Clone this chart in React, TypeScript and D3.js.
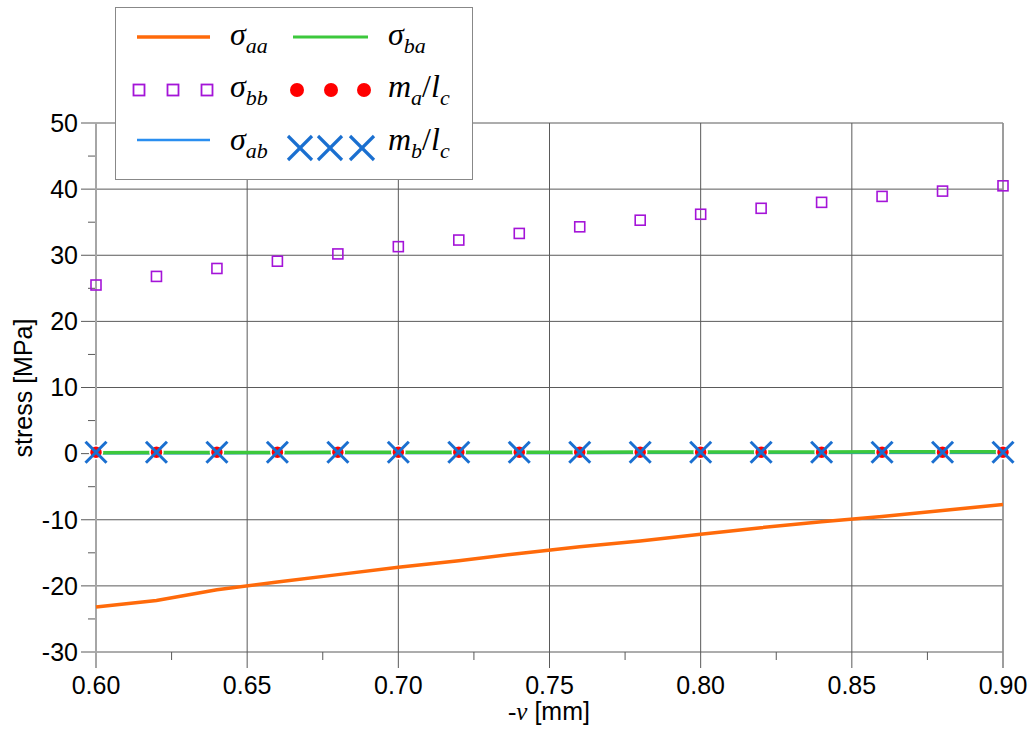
import React from "react";
import * as d3 from "d3";

const xs = [0.60, 0.62, 0.64, 0.66, 0.68, 0.70, 0.72, 0.74, 0.76, 0.78, 0.80, 0.82, 0.84, 0.86, 0.88, 0.90];
const sigmaAA = [-23.2, -22.2, -20.6, -19.4, -18.3, -17.2, -16.2, -15.1, -14.1, -13.2, -12.2, -11.2, -10.3, -9.5, -8.6, -7.7];
const sigmaBA = [0.15, 0.16, 0.17, 0.18, 0.19, 0.2, 0.2, 0.21, 0.22, 0.23, 0.24, 0.25, 0.26, 0.27, 0.28, 0.3];
const sigmaAB = [0.05, 0.06, 0.07, 0.08, 0.08, 0.09, 0.1, 0.1, 0.11, 0.12, 0.12, 0.13, 0.14, 0.14, 0.15, 0.16];
const sigmaBB = [25.5, 26.8, 28.0, 29.1, 30.2, 31.3, 32.3, 33.3, 34.3, 35.3, 36.2, 37.1, 38.0, 38.9, 39.7, 40.5];
const maLc = [0.2, 0.2, 0.2, 0.2, 0.2, 0.2, 0.2, 0.2, 0.2, 0.2, 0.2, 0.2, 0.2, 0.2, 0.2, 0.2];
const mbLc = [0.2, 0.2, 0.2, 0.2, 0.2, 0.2, 0.2, 0.2, 0.2, 0.2, 0.2, 0.2, 0.2, 0.2, 0.2, 0.2];
const xTicks = [0.60, 0.65, 0.70, 0.75, 0.80, 0.85, 0.90];
const xMinor = [0.625, 0.675, 0.725, 0.775, 0.825, 0.875];
const yTicks = [50, 40, 30, 20, 10, 0, -10, -20, -30];
const yMinor = [45, 35, 25, 15, 5, -5, -15, -25];

const ORANGE = "#ff6a0a";
const GREEN = "#3cc83c";
const BLUE_LINE = "#2a8ef0";
const PURPLE = "#a414d8";
const RED = "#ff0000";
const BLUE_X = "#1a6fd0";
const SANS = "'Liberation Sans', Arial, sans-serif";
const SERIF = "'Liberation Serif', 'Times New Roman', serif";

export default function App() {
  const x = d3.scaleLinear().domain([0.6, 0.9]).range([96, 1003]);
  const y = d3.scaleLinear().domain([-30, 50]).range([652, 123]);
  const line = (vals: number[]) =>
    d3.line<number>().x((_, i) => x(xs[i])).y((v) => y(v))(vals) || "";

  const xMark = (cx: number, cy: number, h: number, sw: number, key: string) => (
    <g key={key} stroke={BLUE_X} strokeWidth={sw} strokeLinecap="butt">
      <line x1={cx - h} y1={cy - h} x2={cx + h} y2={cy + h} />
      <line x1={cx - h} y1={cy + h} x2={cx + h} y2={cy - h} />
    </g>
  );

  const legendSigma = (tx: number, by: number, sub: string) => (
    <text x={tx} y={by} fontFamily={SERIF} fontStyle="italic" fontSize={32} fill="#000">
      σ<tspan fontSize={22} dy={8}>{sub}</tspan>
    </text>
  );
  const legendM = (tx: number, by: number, sub: string) => (
    <text x={tx} y={by} fontFamily={SERIF} fontStyle="italic" fontSize={32} fill="#000">
      m<tspan fontSize={22} dy={8}>{sub}</tspan>
      <tspan dy={-8} fontStyle="normal">/</tspan>
      <tspan>l</tspan>
      <tspan fontSize={22} dy={8}>c</tspan>
    </text>
  );

  return (
    <svg width={1033} height={736} style={{ position: "absolute", left: 0, top: 0, background: "#fff" }}>
      {/* grid */}
      {yTicks.map((t) => (
        <line key={"gy" + t} x1={81} x2={1003} y1={y(t)} y2={y(t)} stroke="#5a5a5a" strokeWidth={1} />
      ))}
      {yMinor.map((t) => (
        <line key={"my" + t} x1={88} x2={96} y1={y(t)} y2={y(t)} stroke="#5a5a5a" strokeWidth={1} />
      ))}
      {xTicks.map((t) => (
        <line key={"gx" + t} x1={x(t)} x2={x(t)} y1={123} y2={668} stroke="#5a5a5a" strokeWidth={1} />
      ))}
      {xMinor.map((t) => (
        <line key={"mx" + t} x1={x(t)} x2={x(t)} y1={652} y2={660} stroke="#5a5a5a" strokeWidth={1} />
      ))}
      <line x1={96} x2={96} y1={123} y2={668} stroke="#a6a6a6" strokeWidth={2} />
      <line x1={1003} x2={1003} y1={123} y2={668} stroke="#999" strokeWidth={1.5} />

      {/* tick labels */}
      {yTicks.map((t) => (
        <text key={"ly" + t} x={78} y={y(t)} dy="0.35em" textAnchor="end" fontFamily={SANS} fontSize={25} fill="#000">
          {t}
        </text>
      ))}
      {xTicks.map((t) => (
        <text key={"lx" + t} x={x(t)} y={694} textAnchor="middle" fontFamily={SANS} fontSize={25} fill="#000">
          {t.toFixed(2)}
        </text>
      ))}
      <text x={549} y={720} textAnchor="middle" fontSize={25} fill="#000">
        <tspan fontFamily={SERIF} fontStyle="italic">-v</tspan>
        <tspan fontFamily={SANS}> [mm]</tspan>
      </text>
      <text transform="translate(32,388) rotate(-90)" textAnchor="middle" fontFamily={SANS} fontSize={25} fill="#000">
        stress [MPa]
      </text>

      {/* series */}
      <path d={line(sigmaAB)} fill="none" stroke={BLUE_LINE} strokeWidth={2.5} />
      <path d={line(sigmaBA)} fill="none" stroke={GREEN} strokeWidth={3.5} />
      <path d={line(sigmaAA)} fill="none" stroke={ORANGE} strokeWidth={3.5} />
      {sigmaBB.map((v, i) => (
        <rect key={"sq" + i} x={x(xs[i]) - 5} y={y(v) - 5} width={10} height={10} fill="none" stroke={PURPLE} strokeWidth={1.6} />
      ))}
      {maLc.map((v, i) => (
        <circle key={"rd" + i} cx={x(xs[i])} cy={y(v)} r={6.5} fill={RED} stroke="#fff" strokeWidth={1.5} />
      ))}
      {mbLc.map((v, i) => xMark(x(xs[i]), y(v), 10.5, 3, "xm" + i))}

      {/* legend */}
      <rect x={115.5} y={7.5} width={357} height={172} fill="#fff" stroke="#888" strokeWidth={1} />
      <line x1={137} x2={210} y1={37} y2={37} stroke={ORANGE} strokeWidth={3.5} />
      {legendSigma(230, 45, "aa")}
      <line x1={293} x2={368} y1={37} y2={37} stroke={GREEN} strokeWidth={3} />
      {legendSigma(388, 45, "ba")}
      {[139, 173, 207].map((cx) => (
        <rect key={"lsq" + cx} x={cx - 5.5} y={84.5} width={11} height={11} fill="none" stroke={PURPLE} strokeWidth={1.8} />
      ))}
      {legendSigma(230, 97, "bb")}
      {[297, 331, 364].map((cx) => (
        <circle key={"lrd" + cx} cx={cx} cy={90} r={7} fill={RED} />
      ))}
      {legendM(388, 97, "a")}
      <line x1={137} x2={210} y1={140} y2={140} stroke={BLUE_LINE} strokeWidth={2.5} />
      {legendSigma(230, 150, "ab")}
      {[300, 330, 362].map((cx) => xMark(cx, 148, 12, 3.2, "lx" + cx))}
      {legendM(388, 150, "b")}
    </svg>
  );
}
